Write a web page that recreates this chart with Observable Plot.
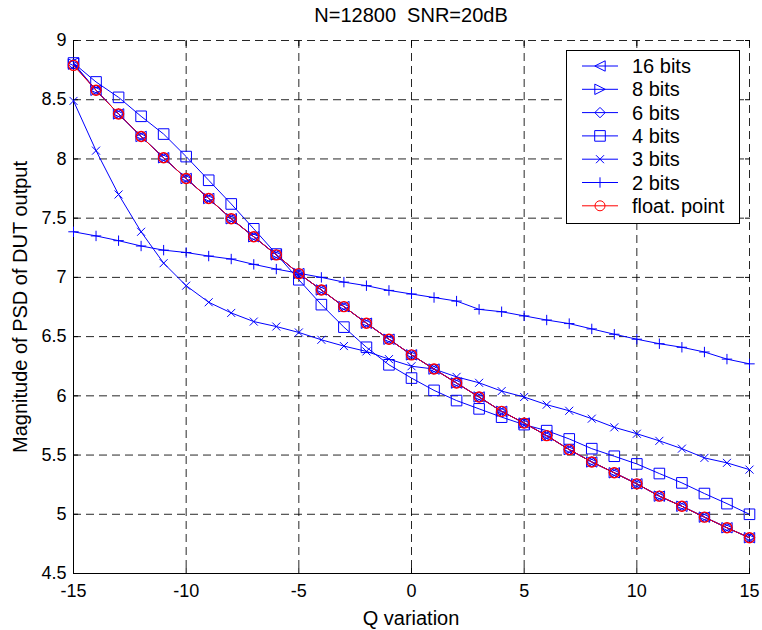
<!DOCTYPE html>
<html><head><meta charset="utf-8">
<script src="https://cdn.jsdelivr.net/npm/d3@7"></script>
<script src="https://cdn.jsdelivr.net/npm/@observablehq/plot@0.6"></script>
<style>
body{margin:0;background:#fff;font-family:Arial,"Liberation Sans",sans-serif;}
#wrap{position:relative;width:762px;height:630px;overflow:hidden;}
#title{position:absolute;left:73px;width:676px;top:5px;line-height:20px;font-size:20px;text-align:center;white-space:pre;color:#000;}
#chart{position:absolute;left:0;top:30px;}
#legend{position:absolute;left:566px;top:50px;}
</style></head><body>
<div id="wrap">
  <div id="title">N=12800  SNR=20dB</div>
  <div id="chart"></div>
  <div id="legend"></div>
</div>
<script>
// ---- data ----
const qValues = [-15,-14,-13,-12,-11,-10,-9,-8,-7,-6,-5,-4,-3,-2,-1,0,1,2,3,4,5,6,7,8,9,10,11,12,13,14,15];
const bits16 = [8.81,8.58,8.38,8.19,8.01,7.835,7.666,7.495,7.343,7.19,7.032,6.894,6.753,6.613,6.478,6.346,6.226,6.108,5.99,5.869,5.77,5.664,5.546,5.442,5.35,5.257,5.153,5.068,4.976,4.886,4.802];
const bits8  = [8.80,8.58,8.38,8.19,8.01,7.835,7.666,7.495,7.343,7.19,7.032,6.894,6.753,6.613,6.478,6.346,6.226,6.108,5.99,5.869,5.77,5.664,5.546,5.442,5.35,5.257,5.153,5.068,4.976,4.886,4.802];
const bits6  = [8.80,8.58,8.38,8.19,8.01,7.835,7.666,7.495,7.343,7.19,7.032,6.894,6.753,6.613,6.478,6.346,6.226,6.108,5.99,5.869,5.77,5.664,5.546,5.442,5.35,5.257,5.153,5.068,4.976,4.886,4.802];
const bits4  = [8.81,8.65,8.52,8.36,8.21,8.02,7.82,7.62,7.41,7.197,6.98,6.77,6.58,6.41,6.262,6.15,6.046,5.96,5.89,5.82,5.757,5.706,5.636,5.554,5.49,5.425,5.344,5.265,5.175,5.09,5.0];
const bits3  = [8.49,8.07,7.70,7.385,7.12,6.93,6.79,6.70,6.627,6.585,6.535,6.473,6.42,6.375,6.31,6.25,6.226,6.16,6.11,6.04,5.99,5.925,5.874,5.807,5.734,5.68,5.62,5.554,5.476,5.434,5.377];
const bits2  = [7.385,7.35,7.31,7.265,7.23,7.21,7.18,7.155,7.11,7.07,7.035,7.0,6.96,6.93,6.89,6.86,6.83,6.80,6.73,6.71,6.675,6.64,6.61,6.565,6.52,6.478,6.44,6.41,6.37,6.31,6.27];
const floatPoint = [8.79,8.58,8.38,8.19,8.01,7.835,7.666,7.495,7.343,7.19,7.032,6.894,6.753,6.613,6.478,6.346,6.226,6.108,5.99,5.869,5.77,5.664,5.546,5.442,5.35,5.257,5.153,5.068,4.976,4.886,4.802];
const seriesNames = ["16 bits","8 bits","6 bits","4 bits","3 bits","2 bits","float. point"];
const xTicks = [-15,-10,-5,0,5,10,15];
const yTicks = [4.5,5,5.5,6,6.5,7,7.5,8,8.5,9];
const titleText = "N=12800  SNR=20dB";
const xLabel = "Q variation";
const yLabel = "Magnitude of PSD of DUT output";

// ---- symbols ----
const R = s => Math.sqrt(s / Math.PI);
const triLeft = {draw(c, s){const r=R(s); c.moveTo(-r,0); c.lineTo(r,-r); c.lineTo(r,r); c.closePath();}};
const triRight = {draw(c, s){const r=R(s); c.moveTo(r,0); c.lineTo(-r,-r); c.lineTo(-r,r); c.closePath();}};
const diamond = {draw(c, s){const r=R(s); c.moveTo(0,-r); c.lineTo(r,0); c.lineTo(0,r); c.lineTo(-r,0); c.closePath();}};
const square = {draw(c, s){const r=R(s); c.moveTo(-r,-r); c.lineTo(r,-r); c.lineTo(r,r); c.lineTo(-r,r); c.closePath();}};
const times = {draw(c, s){const r=R(s); c.moveTo(-r,-r); c.lineTo(r,r); c.moveTo(-r,r); c.lineTo(r,-r);}};
const plus = {draw(c, s){const r=R(s); c.moveTo(-r,0); c.lineTo(r,0); c.moveTo(0,-r); c.lineTo(0,r);}};
const circle = {draw(c, s){const r=R(s); c.moveTo(r,0); c.arc(0,0,r,0,2*Math.PI); c.closePath();}};

const blue = "#0000ff", red = "#ff0000";
const seriesDefs = [
  {name: seriesNames[0], values: bits16, color: blue, symbol: triLeft, r: 5.2, sw: 1},
  {name: seriesNames[1], values: bits8, color: blue, symbol: triRight, r: 5.2, sw: 1},
  {name: seriesNames[2], values: bits6, color: blue, symbol: diamond, r: 5.2, sw: 1},
  {name: seriesNames[3], values: bits4, color: blue, symbol: square, r: 5.3, sw: 1},
  {name: seriesNames[4], values: bits3, color: blue, symbol: times, r: 4, sw: 1},
  {name: seriesNames[5], values: bits2, color: blue, symbol: plus, r: 5.2, sw: 1},
  {name: seriesNames[6], values: floatPoint, color: red, symbol: circle, r: 5, sw: 1.4}
];

const marks = [
  Plot.gridX({ticks: xTicks, stroke: "#000", strokeOpacity: 0.85, strokeDasharray: "8,5"}),
  Plot.gridY({ticks: yTicks, stroke: "#000", strokeOpacity: 0.85, strokeDasharray: "8,5"}),
  Plot.ruleX([-15], {stroke: "#000"}),
  Plot.ruleY([4.5], {stroke: "#000"}),
  Plot.axisX({ticks: xTicks, tickFormat: d => String(d), tickSize: -5, tickPadding: 16, fontSize: 18, label: null}),
  Plot.axisY({ticks: yTicks, tickFormat: d => String(d), tickSize: -5, tickPadding: 12, fontSize: 18, label: null}),
  Plot.axisX({anchor: "top", ticks: xTicks, tickFormat: () => "", tickSize: -5, label: null}),
  Plot.axisY({anchor: "right", ticks: yTicks, tickFormat: () => "", tickSize: -5, label: null})
];
for (const s of seriesDefs) {
  const data = qValues.map((q, i) => ({q, v: s.values[i]}));
  marks.push(Plot.line(data, {x: "q", y: "v", stroke: s.color, strokeWidth: 1}));
  marks.push(Plot.dot(data, {x: "q", y: "v", symbol: s.symbol, r: s.r, fill: "none", stroke: s.color, strokeWidth: s.sw}));
}

const chart = Plot.plot({
  width: 762, height: 600,
  marginTop: 10, marginBottom: 57, marginLeft: 73, marginRight: 13,
  x: {domain: [-15, 15], label: null},
  y: {domain: [4.5, 9], label: null},
  style: {fontSize: "20px", fontFamily: "Arial, 'Liberation Sans', sans-serif", color: "#000", background: "#fff", overflow: "visible"},
  marks
});
document.getElementById("chart").appendChild(chart);

// axis titles as real text in the svg
const svg = d3.select(chart);
svg.append("text").attr("x", 411).attr("y", 595).attr("text-anchor", "middle")
  .style("font-size", "20px").style("fill", "#000").text(xLabel);
svg.append("text").attr("transform", "translate(20,277) rotate(-90)").attr("text-anchor", "middle").attr("dominant-baseline", "central")
  .style("font-size", "20px").style("fill", "#000").text(yLabel);

// ---- legend ----
const lw = 174, lh = 174;
const leg = d3.select("#legend").append("svg").attr("width", lw).attr("height", lh)
  .style("font-family", "Arial, 'Liberation Sans', sans-serif");
leg.append("rect").attr("x", 0.5).attr("y", 0.5).attr("width", lw - 1).attr("height", lh - 1).attr("fill", "#fff").attr("stroke", "#000");
seriesDefs.forEach((s, i) => {
  const y = 16 + i * 23.3;
  leg.append("line").attr("x1", 16).attr("x2", 52).attr("y1", y).attr("y2", y).attr("stroke", s.color);
  const p = d3.path(); s.symbol.draw(p, s.r * s.r * Math.PI);
  leg.append("path").attr("d", p.toString()).attr("transform", `translate(34,${y})`).attr("fill", "none").attr("stroke", s.color);
  leg.append("text").attr("x", 66).attr("y", y).attr("dominant-baseline", "central").style("font-size", "20px").attr("fill", "#000").text(s.name);
});
</script>
</body></html>
